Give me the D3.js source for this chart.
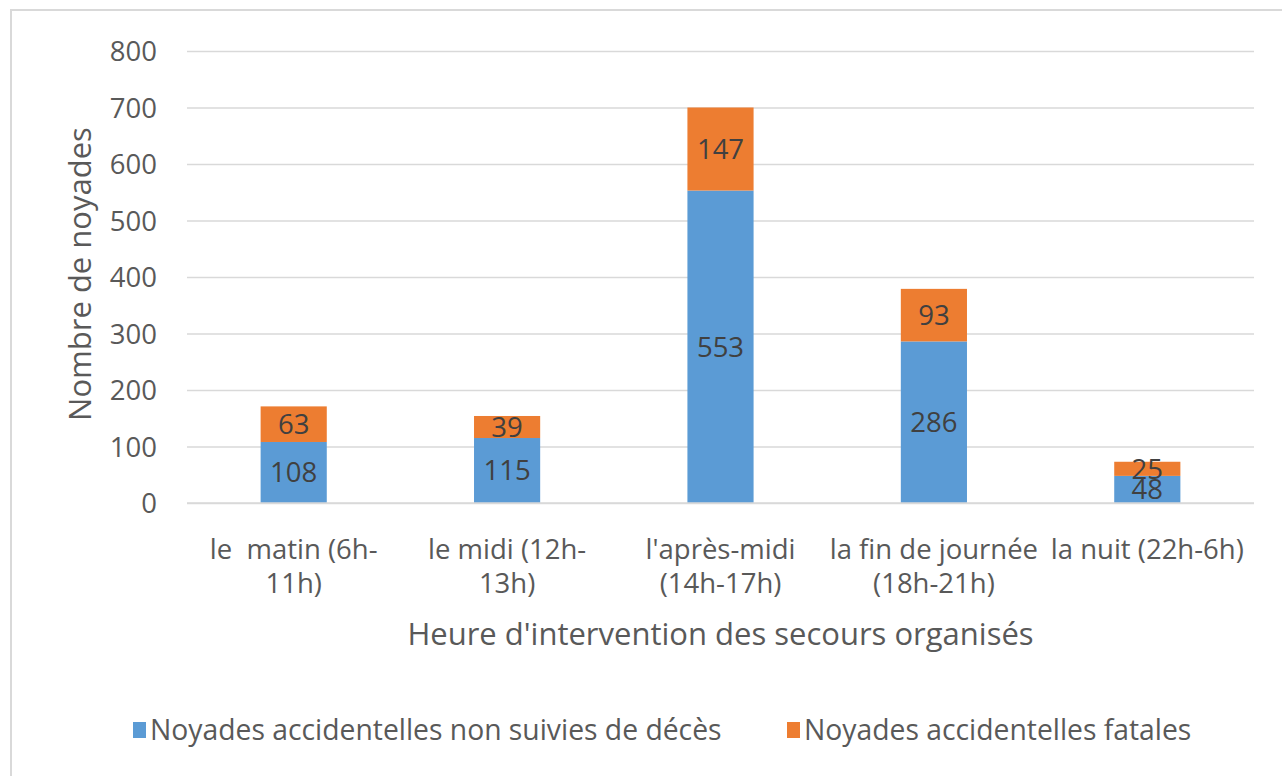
<!DOCTYPE html>
<html><head><meta charset="utf-8">
<script src="https://cdn.jsdelivr.net/npm/d3@7"></script>
<style>
html,body{margin:0;padding:0;background:#fff;}
svg{display:block;}
</style></head>
<body>
<svg id="chart" width="1282" height="776"></svg>
<script>
const categories = [["le  matin (6h-","11h)"],["le midi (12h-","13h)"],["l'après-midi","(14h-17h)"],["la fin de journée","(18h-21h)"],["la nuit (22h-6h)"]];
const seriesNames = ["Noyades accidentelles non suivies de décès","Noyades accidentelles fatales"];
const nonFatal = [108,115,553,286,48];
const fatal = [63,39,147,93,25];
const yTicks = [0,100,200,300,400,500,600,700,800];
const colors = ["#5B9BD5","#ED7D31"];
const yTitle = "Nombre de noyades";
const xTitle = "Heure d'intervention des secours organisés";

const svg = d3.select("#chart");
const font = "'Open Sans','Noto Sans',sans-serif";

// chart border
svg.append("rect").attr("x",11).attr("y",10).attr("width",1400).attr("height",900)
  .attr("fill","none").attr("stroke","#d9d9d9").attr("stroke-width",2);

const L=187,R=1254,T=51,B=503;
const idx = categories.map((d,i)=>i);
const x = d3.scaleBand().domain(idx).range([L,R]).paddingInner(0.69).paddingOuter(0.345);
const y = d3.scaleLinear().domain([0,800]).range([B,T]);

// grid + y ticks
const yAxis = d3.axisLeft(y).tickValues(yTicks).tickSize(-(R-L)).tickPadding(30);
const gy = svg.append("g").attr("transform",`translate(${L},0)`).call(yAxis);
gy.select(".domain").remove();
gy.selectAll(".tick line").attr("stroke","#d9d9d9").attr("stroke-width",1.5);
gy.selectAll(".tick text").attr("fill","#595959").attr("font-family",font).attr("font-size",27.5)
  .attr("dy","0.36em").attr("x",-30);

const stack = d3.stack().keys([0,1]).value((d,k)=> k===0? nonFatal[d]: fatal[d]);
const series = stack(idx);
const g = svg.append("g");
series.forEach((s,k)=>{
  g.selectAll(null).data(s).enter().append("rect")
    .attr("x",(d,i)=>x(i)).attr("width",x.bandwidth())
    .attr("y",d=>y(d[1])).attr("height",d=>y(d[0])-y(d[1]))
    .attr("fill",colors[k]);
});
series.forEach((s,k)=>{
  g.selectAll(null).data(s).enter().append("text")
    .attr("x",(d,i)=>x(i)+x.bandwidth()/2)
    .attr("y",d=>y((d[0]+d[1])/2))
    .attr("dy","0.36em").attr("text-anchor","middle")
    .attr("font-family",font).attr("font-size",27.5).attr("fill","#404040")
    .text((d,i)=> k===0? nonFatal[i]: fatal[i]);
});

// baseline
svg.append("line").attr("x1",L).attr("x2",R).attr("y1",y(0)).attr("y2",y(0))
  .attr("stroke","#d9d9d9").attr("stroke-width",1.5);

// x axis labels
const xAxis = d3.axisBottom(x).tickSize(0).tickFormat(()=> "");
const gx = svg.append("g").attr("transform",`translate(0,${B})`).call(xAxis);
gx.select(".domain").remove();
gx.selectAll(".tick text").remove();
gx.selectAll(".tick").each(function(d){
  const tk = d3.select(this);
  categories[d].forEach((line,j)=>{
    tk.append("text").attr("x",0).attr("y",56+j*34).attr("text-anchor","middle")
      .attr("fill","#595959").attr("font-family",font).attr("font-size",27.5)
      .style("white-space","pre").text(line);
  });
});

// axis titles
svg.append("text").attr("x",(L+R)/2).attr("y",645).attr("text-anchor","middle")
  .attr("font-family",font).attr("font-size",31).attr("fill","#595959").text(xTitle);
svg.append("text").attr("transform",`translate(91,${(T+B)/2-3}) rotate(-90)`).attr("text-anchor","middle")
  .attr("font-family",font).attr("font-size",31).attr("fill","#595959").text(yTitle);

// legend
const legendX = [133,787];
seriesNames.forEach((n,k)=>{
  svg.append("rect").attr("x",legendX[k]).attr("y",722).attr("width",13).attr("height",16).attr("fill",colors[k]);
  svg.append("text").attr("x",legendX[k]+17).attr("y",730).attr("dy","0.36em")
    .attr("font-family",font).attr("font-size",28.3).attr("fill","#595959").text(n);
});
</script>
</body></html>
